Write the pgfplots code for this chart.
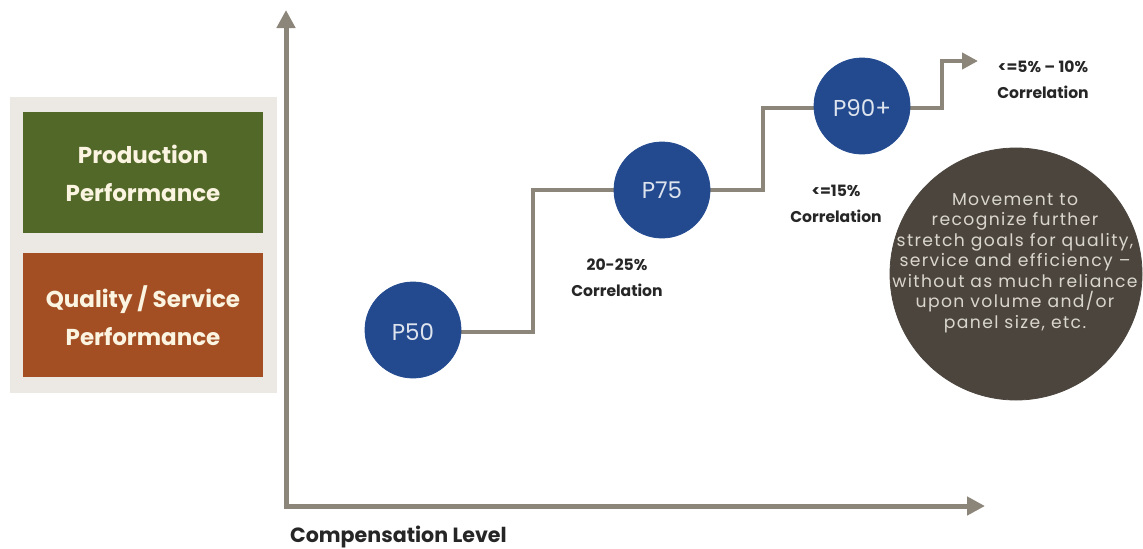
\documentclass[border=0pt]{standalone}
\usepackage{pgfplots}
\pgfplotsset{compat=1.18}
\usepackage{fontspec}
\setmainfont{Poppins}
\usetikzlibrary{arrows.meta}
\definecolor{axisgray}{RGB}{140,133,122}
\definecolor{pblue}{RGB}{35,74,143}
\definecolor{darkc}{RGB}{75,69,62}
\definecolor{bggray}{RGB}{236,233,228}
\definecolor{olive}{RGB}{82,104,40}
\definecolor{rust}{RGB}{163,78,35}
\definecolor{cream}{RGB}{250,244,225}
\definecolor{lightc}{RGB}{218,214,206}
\begin{document}
\begin{tikzpicture}
\begin{axis}[
  width=571.5pt, height=274pt, scale only axis,
  xmin=0, xmax=1143, ymin=0, ymax=548, y dir=reverse,
  hide axis, clip=false, set layers=standard,
]
% left panel
\fill[bggray] (axis cs:10,97) rectangle (axis cs:277,393);
\fill[olive] (axis cs:23,112) rectangle (axis cs:263,233);
\fill[rust] (axis cs:23,253) rectangle (axis cs:263,377);
% axes
\addplot[axisgray, line width=2.5pt, -{Triangle[length=9pt,width=9pt]}] coordinates {(286,506) (286,10)};
\addplot[axisgray, line width=2.5pt, -{Triangle[length=9pt,width=9pt]}] coordinates {(284,506) (985,506)};
% step line
\addplot[axisgray, line width=2pt, -{Triangle[length=8pt,width=8pt]}] coordinates {
 (413,332) (533,332) (533,190) (763,190) (763,108) (942,108) (942,61) (978,61)};
% circles
\addplot[only marks, mark=*, mark size=24pt, color=pblue] coordinates {(413,330) (662,190) (862,106)};
\addplot[only marks, mark=*, mark size=63pt, color=darkc] coordinates {(1016,274)};
\begin{pgfonlayer}{axis foreground}
\node[text=cream, font=\bfseries\fontsize{11.5}{19}\selectfont, align=center] at (axis cs:143,173) {Production\\Performance};
\node[text=cream, font=\bfseries\fontsize{11.5}{19}\selectfont, align=center] at (axis cs:143,316) {Quality / Service\\Performance};
\node[text=white!85!pblue, font=\fontsize{11.5}{13}\selectfont] at (axis cs:413,332) {P50};
\node[text=white!85!pblue, font=\fontsize{11.5}{13}\selectfont] at (axis cs:662,190) {P75};
\node[text=white!85!pblue, font=\fontsize{11.5}{13}\selectfont] at (axis cs:862,108) {P90+};
\node[text=black!85, font=\bfseries\fontsize{7.8}{13}\selectfont, align=center] at (axis cs:617,278) {20-25\%\\Correlation};
\node[text=black!85, font=\bfseries\fontsize{7.8}{13}\selectfont, align=center] at (axis cs:836,204) {<=15\%\\Correlation};
\node[text=black!85, font=\bfseries\fontsize{7.8}{13}\selectfont, align=center] at (axis cs:1043,80) {<=5\% -- 10\%\\Correlation};
\node[text=lightc, font=\addfontfeatures{LetterSpace=8}\fontsize{8.6}{10.25}\selectfont, align=center] at (axis cs:1015,263) {Movement to\\recognize further\\stretch goals for quality,\\service and efficiency --\\without as much reliance\\upon volume and/or\\panel size, etc.};
\node[text=black!85, font=\bfseries\fontsize{10.3}{12}\selectfont, anchor=west] at (axis cs:283,537) {Compensation Level};
\end{pgfonlayer}
\end{axis}
\pgfresetboundingbox
\path (current axis.south west) rectangle (current axis.north east);
\end{tikzpicture}
\end{document}
